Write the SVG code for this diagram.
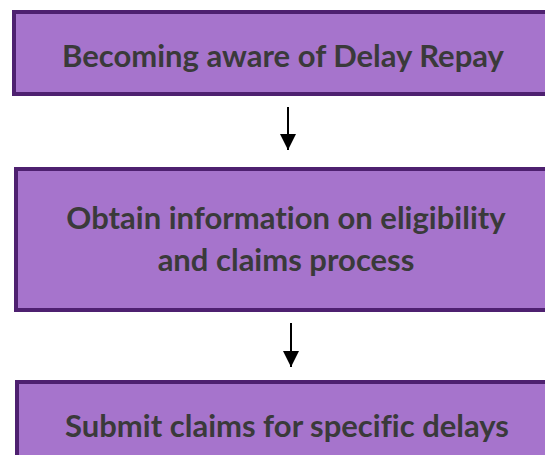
<svg xmlns="http://www.w3.org/2000/svg" width="545" height="455" viewBox="0 0 545 455">
<style>
.box{fill:#A674CC;stroke:#4E2070;stroke-width:4}
.t{font-family:Lato,"Open Sans",sans-serif;font-weight:bold;font-size:31px;fill:#3A3A3A;text-anchor:middle;font-variant-ligatures:none}
.c{stroke:#000;stroke-width:2;fill:none}
</style>
<defs>
<marker id="ah" markerUnits="userSpaceOnUse" markerWidth="16" markerHeight="16" refX="16" refY="8" orient="auto" viewBox="0 0 16 16"><path d="M0,0 L16,8 L0,16 Z" fill="#000"/></marker>
</defs>
<rect width="545" height="455" fill="#fff"/>
<g id="node1"><rect class="box" x="14" y="12" width="560" height="82"/><text class="t" x="283" y="67">Becoming aware of Delay Repay</text></g>
<g id="node2"><rect class="box" x="16" y="169" width="560" height="141"/><text class="t" x="286" y="229">Obtain information on eligibility</text><text class="t" x="286" y="271">and claims process</text></g>
<g id="node3"><rect class="box" x="17" y="382" width="560" height="100"/><text class="t" x="287" y="437">Submit claims for specific delays</text></g>
<g id="connectors"><line class="c" x1="288" y1="107" x2="288" y2="150" marker-end="url(#ah)"/><line class="c" x1="291" y1="323" x2="291" y2="367" marker-end="url(#ah)"/></g>
</svg>
